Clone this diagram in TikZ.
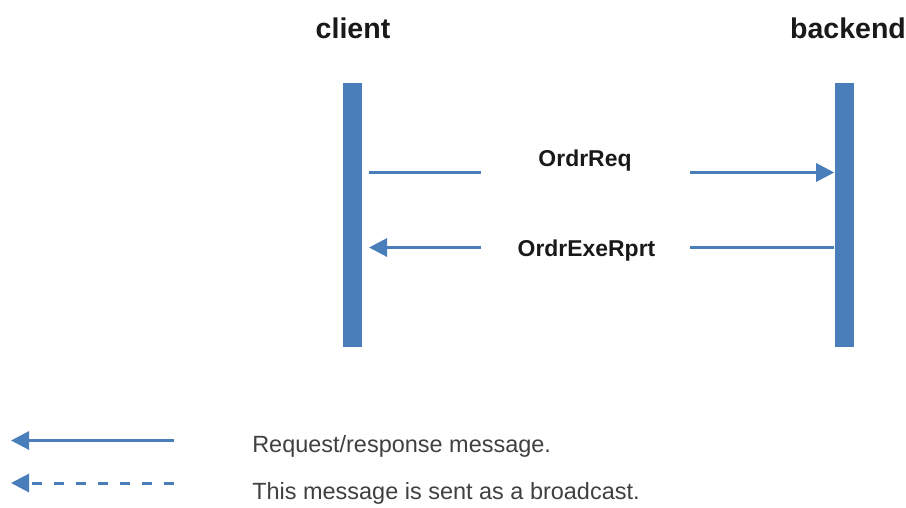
\documentclass[tikz,border=0pt]{standalone}
\usepackage{fontspec}
\setmainfont{Liberation Sans}
\usetikzlibrary{arrows.meta}
\definecolor{lifeblue}{RGB}{74,126,187}
\definecolor{legendgray}{RGB}{64,64,64}
\tikzset{
  lifeline/.style={fill=lifeblue,draw=none,minimum width=14.25pt,minimum height=198pt,inner sep=0pt,anchor=north},
  actor/.style={anchor=base,inner sep=0.75pt,font=\bfseries\fontsize{21.4}{24}\selectfont,text=black!90},
  msglabel/.style={anchor=base,inner sep=0.75pt,font=\bfseries\fontsize{17.2}{20}\selectfont,text=black!90},
  msgline/.style={draw=lifeblue,line width=2.25pt},
  msgarrow/.style={msgline,-{Triangle[length=13.5pt,width=13.5pt]}},
  legendtext/.style={anchor=base west,inner sep=0pt,font=\fontsize{17.6}{20}\selectfont,text=legendgray},
}

\begin{document}
\begin{tikzpicture}[x=0.75pt,y=0.75pt,yscale=-1,xscale=1]
	\useasboundingbox (0,0) rectangle (906,507);
	% lifelines
	\node[lifeline] (client) at (352,83) {};
	\node[lifeline] (backend) at (844,83) {};
	\node[actor] (clientname) at (353,38) {client};
	\node[actor] (backendname) at (848,38) {backend};
	% OrdrReq
	\node[msglabel] (req) at (585,166.5) {OrdrReq};
	\coordinate (req-a) at (369,172.5);
	\coordinate (req-b) at (481,172.5);
	\coordinate (req-c) at (690,172.5);
	\draw[msgline] (req-a) -- (req-b);
	\draw[msgarrow] (req-c) -- (backend.west |- req-c);
	% OrdrExeRprt
	\node[msglabel] (rpt) at (586.5,256.5) {OrdrExeRprt};
	\coordinate (rpt-a) at (369,247.5);
	\coordinate (rpt-b) at (481,247.5);
	\coordinate (rpt-c) at (690,247.5);
	\draw[msgline] (backend.west |- rpt-c) -- (rpt-c);
	\draw[msgarrow] (rpt-b) -- (rpt-a);
	% legend
	\coordinate (solid-end) at (174,440.5);
	\coordinate (solid-tip) at (11,440.5);
	\draw[msgarrow] (solid-end) -- (solid-tip);
	\node[legendtext] (solidtext) at (252,452) {Request/response message.};
	\coordinate (dash-end) at (174,483);
	\coordinate (dash-tip) at (11,483);
	\draw[msgarrow,dash pattern=on 7.5pt off 9pt] (dash-end) -- (dash-tip);
	\node[legendtext] (dashtext) at (252,499) {This message is sent as a broadcast.};
\end{tikzpicture}
\end{document}
